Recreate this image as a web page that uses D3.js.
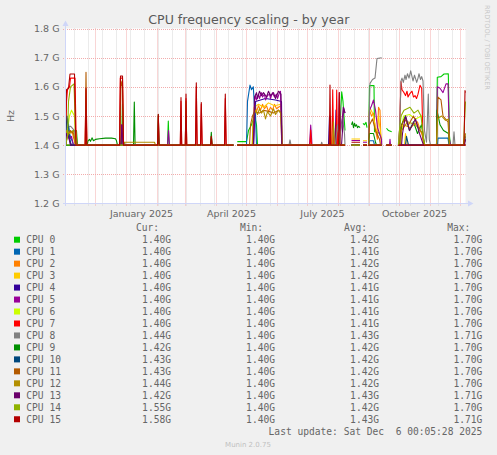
<!DOCTYPE html>
<html>
<head>
<meta charset="utf-8">
<script src="https://cdnjs.cloudflare.com/ajax/libs/d3/7.8.5/d3.min.js"></script>
<style>
body { margin: 0; background: #f0f0f0; }
svg { display: block; }
text { font-family: "DejaVu Sans", sans-serif; fill: #666; }
.mono { font-family: "DejaVu Sans Mono", monospace; font-size: 9.6px; white-space: pre; }
</style>
</head>
<body>
<div id="chart"></div>
<script>
// time window: 400 days ending at the last update
const startTime = Date.UTC(2024, 10, 1, 0, 5);
const endTime = Date.UTC(2025, 11, 6, 0, 5);
const BASE = 1.40;

// spans (in days from start) where rrd has data
const segments = [[0, 167.8], [171.8, 279.5], [286, 294.5], [297.5, 301.5], [303, 316.2], [321, 326.2], [332.8, 400]];

const cpuNames = ["CPU 0", "CPU 1", "CPU 2", "CPU 3", "CPU 4", "CPU 5", "CPU 6", "CPU 7",
                  "CPU 8", "CPU 9", "CPU 10", "CPU 11", "CPU 12", "CPU 13", "CPU 14", "CPU 15"];
const cpuColors = ["#00CC00", "#0066B3", "#FF8000", "#FFCC00", "#330099", "#990099", "#CCFF00", "#FF0000",
                   "#808080", "#008F00", "#00487D", "#B35A00", "#B38F00", "#6B006B", "#8FB300", "#B30000"];
const curVals = ["1.40G", "1.40G", "1.40G", "1.40G", "1.40G", "1.40G", "1.40G", "1.40G",
                 "1.44G", "1.42G", "1.43G", "1.43G", "1.44G", "1.42G", "1.55G", "1.58G"];
const minVals = ["1.40G", "1.40G", "1.40G", "1.40G", "1.40G", "1.40G", "1.40G", "1.40G",
                 "1.40G", "1.40G", "1.40G", "1.40G", "1.40G", "1.40G", "1.40G", "1.40G"];
const avgVals = ["1.42G", "1.41G", "1.42G", "1.42G", "1.41G", "1.41G", "1.41G", "1.41G",
                 "1.43G", "1.42G", "1.42G", "1.42G", "1.42G", "1.43G", "1.42G", "1.43G"];
const maxVals = ["1.70G", "1.70G", "1.70G", "1.70G", "1.70G", "1.70G", "1.70G", "1.70G",
                 "1.71G", "1.70G", "1.70G", "1.70G", "1.70G", "1.71G", "1.70G", "1.71G"];
const yTicks = [1.2, 1.3, 1.4, 1.5, 1.6, 1.7, 1.8];

// [day, GHz] points; everything not listed sits at 1.40
const cpu0 = [[0,1.42],[3,1.44],[8,1.45],[11,1.45],[12,1.40],
  [56,1.40],[57,1.54],[58,1.41],[59,1.40],
  [102,1.40],[102.8,1.483],[103.6,1.40],
  [171.8,1.412],[181,1.412],[183,1.45],[186,1.47],[189,1.50],[191,1.47],[192,1.40],
  [274,1.40],[275,1.50],[276.2,1.583],[277.5,1.55],[278.5,1.50],[279.5,1.45],
  [297.5,1.475],[299,1.47],[300.5,1.478],[301.5,1.46],
  [303,1.40],[304,1.604],[308.5,1.604],[309,1.446],[312,1.445],[314,1.44],[316.2,1.42],
  [321,1.458],[323,1.45],[326.2,1.446],
  [371,1.40],[371.8,1.633],[375.5,1.635],[378.5,1.644],[382.8,1.645],[384,1.43],[385,1.40]];
const cpu1 = [[0,1.40],[1.5,1.47],[2.5,1.49],[4,1.44],[6,1.42],[8,1.40],
  [181,1.40],[182,1.55],[184.5,1.606],[186,1.59],[187.8,1.60],[189,1.53],[190,1.50],[191,1.40],
  [269,1.40],[270,1.46],[271,1.40],
  [303,1.40],[304,1.415],[308,1.415],[309,1.40],
  [372,1.40],[372.5,1.424],[382.5,1.424],[383.5,1.40]];
const cpu2 = [[0,1.44],[3,1.45],[7,1.44],[10,1.40],
  [187,1.40],[188,1.50],[190,1.53],[191,1.515],[193,1.535],[195,1.52],[197,1.54],[199,1.525],[201,1.535],[203,1.515],[205,1.53],[207,1.52],[209,1.54],[211,1.525],[213,1.53],[215.5,1.535],[216.5,1.40],
  [264,1.40],[265,1.50],[266,1.40],
  [303,1.40],[304,1.52],[306,1.50],[308,1.51],[310,1.45],[312,1.42],[313,1.53],[314.5,1.52],[315.5,1.41],
  [334,1.40],[335,1.45],[338,1.47],[345,1.46],[352,1.48],[358,1.42],[359,1.40]];
const cpu3 = [[186.5,1.40],[188.5,1.53],[193,1.54],[198,1.53],[203,1.545],[209,1.535],[215.5,1.54],[216.5,1.40],
  [286,1.421],[294.5,1.421],
  [297.5,1.415],[301.5,1.415],
  [303,1.40],[304,1.53],[307,1.51],[309,1.48],[311,1.44],[313,1.50],[314,1.47],[316.2,1.41],
  [339,1.40],[340,1.44],[342,1.40]];
const cpu4 = [[0,1.40],[1,1.45],[3,1.43],[6,1.40],
  [188,1.40],[190,1.55],[200,1.56],[210,1.555],[216,1.55],[216.5,1.40],
  [263,1.40],[264,1.50],[265,1.40],[269.5,1.40],[270.5,1.52],[271.5,1.40]];
const cpu5 = [[0,1.40],[2,1.44],[4,1.42],[6,1.43],[8,1.40],
  [55,1.40],[56,1.47],[57.5,1.40],
  [102,1.40],[103,1.45],[104,1.40],
  [188,1.40],[189,1.55],[190,1.57],[191,1.555],[193,1.575],[194,1.56],[196,1.58],[197,1.565],[199,1.575],[200,1.555],[202,1.57],[204,1.575],[205,1.56],[207,1.58],[209,1.565],[211,1.575],[212,1.56],[214,1.58],[215,1.585],[216.2,1.40],
  [244,1.40],[245.2,1.469],[246.5,1.40],
  [272.5,1.40],[273.8,1.58],[275,1.45],[277,1.50],[277.8,1.53],[279.5,1.51],
  [286,1.416],[294.5,1.416],
  [297.5,1.41],[301.5,1.41],
  [303,1.40],[304,1.52],[306,1.535],[308,1.555],[310,1.52],[312,1.46],[316,1.42],
  [324,1.40],[324.5,1.42],[325,1.40],
  [371,1.40],[371.8,1.60],[374.5,1.595],[377.5,1.58],[380.5,1.61],[382.5,1.61],[384,1.42],[385,1.40]];
const cpu6 = [[0,1.40],[2,1.45],[4,1.50],[6,1.52],[9,1.50],[10.5,1.40],
  [335,1.40],[336,1.45],[338,1.50],[344,1.505],[350,1.49],[356,1.50],[358,1.40]];
const cpu7 = [[0,1.40],[1,1.55],[2,1.59],[4,1.60],[5,1.63],[9.5,1.63],[10.5,1.45],[11.5,1.40],
  [19.5,1.40],[20.5,1.59],[21.5,1.40],
  [54,1.40],[54.8,1.63],[57,1.63],[58,1.40],
  [92,1.40],[92.8,1.50],[93.6,1.40],
  [114.8,1.40],[115.5,1.55],[116.2,1.40],
  [119.8,1.40],[120.5,1.56],[121.2,1.40],
  [130,1.40],[130.8,1.60],[131.6,1.40],
  [135,1.40],[135.8,1.54],[136.6,1.40],
  [145,1.40],[145.8,1.43],[146.6,1.40],
  [159,1.40],[159.8,1.56],[160.6,1.40],
  [244.5,1.40],[245.2,1.452],[246,1.40],
  [266.5,1.40],[267.2,1.59],[268.2,1.40],[270.5,1.40],[271.2,1.589],[272,1.40],
  [333,1.40],[334,1.45],[335.5,1.618],[336.5,1.59],[338.5,1.58],[340,1.57],[341.5,1.585],[342.5,1.565],[344,1.575],[346.5,1.585],[348,1.565],[349.5,1.57],[351,1.56],[352.5,1.575],[354.5,1.605],[356.2,1.595],[357.5,1.42],[358.5,1.40]];
const cpu8 = [[0,1.40],[1,1.46],[5,1.465],[9,1.45],[11,1.40],
  [58,1.40],[59,1.41],[60,1.40],
  [223.5,1.40],[224.5,1.418],[225.5,1.40],
  [255.5,1.40],[256.2,1.41],[257,1.40],
  [270,1.40],[272,1.47],[274,1.42],[277,1.49],[279,1.44],
  [303,1.40],[304.5,1.612],[307,1.625],[309.5,1.63],[311.5,1.697],[316.2,1.70],
  [332.8,1.40],[334,1.45],[335.5,1.62],[336.5,1.63],[337.8,1.615],[339.5,1.64],[340.5,1.625],[342,1.645],[343.5,1.63],[345.2,1.655],[346.5,1.635],[347.5,1.62],[349,1.64],[351.2,1.615],[352.5,1.63],[353.5,1.645],[355,1.625],[356.2,1.635],[357.5,1.62],[359,1.45],[361,1.41],[362,1.50],[362.8,1.575],[363.8,1.42],[365,1.40],
  [387.5,1.40],[388.5,1.446],[389.5,1.40],[398,1.40],[400,1.44]];
const cpu9 = [[21.5,1.40],[22.5,1.415],[24,1.42],[25,1.413],[26.5,1.425],[28,1.415],[30,1.42],[34,1.422],[40,1.424],[46,1.424],[50,1.422],[51,1.415],[52,1.40],
  [68,1.40],[68.8,1.548],[69.6,1.40],
  [92.2,1.40],[92.8,1.505],[93.5,1.40],
  [145,1.40],[145.8,1.444],[146.6,1.40],
  [286,1.47],[287,1.48],[288,1.46],[289,1.475],[290,1.465],[291,1.47],[292,1.46],[293,1.465],[294.5,1.46],
  [303,1.40],[304,1.44],[308,1.44],[310,1.41],[311,1.40],
  [334,1.40],[336,1.47],[340,1.50],[344,1.45],[348,1.48],[352,1.44],[356,1.47],[359,1.40],
  [371,1.40],[371.5,1.52],[374.5,1.47],[378,1.45],[383,1.44],[384,1.40],[398,1.40],[400,1.42]];
const cpu10 = [[0,1.43],[1.5,1.50],[3,1.46],[5,1.40],
  [340,1.40],[341,1.43],[343,1.40],
  [398,1.40],[400,1.43]];
const cpu11 = [[0,1.40],[2,1.43],[5,1.45],[8,1.44],[10,1.40],
  [19.7,1.40],[20.5,1.65],[21.3,1.40],
  [54.5,1.40],[55.5,1.62],[57,1.60],[58,1.40],
  [119.8,1.40],[120.5,1.55],[121.2,1.40],
  [184,1.40],[185,1.47],[187,1.50],[189,1.515],[194,1.51],[198,1.52],[204,1.515],[208,1.51],[213,1.52],[216,1.51],[216.7,1.40],
  [303,1.40],[304,1.47],[307,1.49],[310,1.45],[314,1.42],[315,1.40],
  [334,1.40],[335,1.46],[339,1.49],[343,1.47],[348,1.50],[353,1.46],[357,1.44],[359,1.40],
  [371,1.40],[372.5,1.565],[375.5,1.555],[377.5,1.50],[382.5,1.48],[384,1.40],
  [398.5,1.40],[399.5,1.43],[400,1.43]];
const cpu12 = [[0,1.40],[1,1.45],[4,1.44],[8,1.45],[10,1.40],
  [58,1.40],[59,1.41],[70,1.41],[80,1.41],[89,1.41],[90,1.40],
  [187,1.40],[188,1.50],[190,1.52],[192,1.505],[194,1.525],[196,1.51],[198,1.52],[200,1.49],[202,1.515],[205,1.50],[208,1.525],[210,1.505],[213,1.52],[215,1.51],[216.5,1.40],
  [267,1.40],[268,1.48],[269,1.40],
  [335,1.40],[336,1.45],[342,1.48],[350,1.47],[357,1.44],[359,1.40],
  [371,1.40],[372,1.49],[376,1.50],[380,1.485],[383,1.49],[384,1.40],
  [398,1.40],[400,1.44]];
const cpu13 = [[0,1.40],[1,1.44],[3,1.43],[5,1.40],
  [55.5,1.40],[56.5,1.47],[57.5,1.40],
  [188,1.40],[189,1.565],[191,1.58],[192,1.56],[194,1.585],[196,1.57],[198,1.58],[201,1.565],[203,1.585],[205,1.57],[208,1.58],[210,1.56],[213,1.585],[215.5,1.575],[216.3,1.40],
  [276,1.40],[277,1.45],[278,1.53],[279.5,1.51],
  [336,1.40],[337,1.44],[340,1.50],[344,1.45],[350,1.49],[354,1.44],[358,1.40],
  [399,1.40],[400,1.42]];
const cpu14 = [[0,1.40],[2,1.43],[3,1.55],[5,1.60],[8.5,1.61],[10,1.45],[11,1.40],
  [333,1.40],[334,1.45],[335.5,1.50],[338.5,1.52],[344.5,1.53],[348.5,1.51],[352.5,1.52],[355.5,1.50],[358.5,1.41],[359.5,1.40],
  [398,1.40],[399,1.48],[400,1.55]];
const cpu15 = [[0,1.45],[1,1.59],[3,1.595],[4.5,1.644],[9,1.644],[10,1.45],[10.5,1.40],
  [19.8,1.40],[20.5,1.596],[21.2,1.40],
  [54,1.40],[55,1.637],[57,1.637],[58,1.40],
  [92,1.40],[92.8,1.506],[93.6,1.40],
  [114.8,1.40],[115.5,1.563],[116.2,1.40],
  [119.8,1.40],[120.5,1.575],[121.2,1.40],
  [130,1.40],[130.8,1.614],[131.6,1.40],
  [135,1.40],[135.8,1.546],[136.6,1.40],
  [145,1.40],[145.8,1.43],[146.6,1.40],
  [159,1.40],[159.8,1.575],[160.6,1.40],
  [263.8,1.40],[264.5,1.606],[265.2,1.40],[273,1.40],[273.8,1.58],[274.6,1.40],
  [286,1.41],[294.5,1.41],
  [398.5,1.40],[399.5,1.587],[400,1.58]];
const cpuPoints = [cpu0, cpu1, cpu2, cpu3, cpu4, cpu5, cpu6, cpu7, cpu8, cpu9, cpu10, cpu11, cpu12, cpu13, cpu14, cpu15];

const W = 497, H = 455;
const svg = d3.select("#chart").append("svg").attr("width", W).attr("height", H);

const x = d3.scaleUtc().domain([new Date(startTime), new Date(endTime)]).range([65.5, 465.5]);
const y = d3.scaleLinear().domain([1.2, 1.8]).range([203.5, 28.5]);
const dayDate = d => new Date(startTime + d * 864e5);

// canvas
svg.append("rect").attr("x", 65.5).attr("y", 28.5).attr("width", 400).attr("height", 175).attr("fill", "#fff");

// minor grid: every other Sunday
const minorDays = d3.utcSunday.range(new Date(startTime), new Date(endTime)).filter((d, i) => i % 2 === 1);
svg.append("g").selectAll("line").data(minorDays).join("line")
  .attr("x1", d => Math.round(x(d)) + 0.5).attr("x2", d => Math.round(x(d)) + 0.5)
  .attr("y1", 28.5).attr("y2", 205.5)
  .attr("stroke", "#d6d6d6").attr("stroke-dasharray", "1,1");

// major grid: months and 0.1 G steps
const months = d3.utcMonth.range(new Date(startTime), new Date(endTime));
svg.append("g").selectAll("line").data(months).join("line")
  .attr("x1", d => Math.round(x(d)) + 0.5).attr("x2", d => Math.round(x(d)) + 0.5)
  .attr("y1", 28.5).attr("y2", 206.5)
  .attr("stroke", "#f2acac").attr("stroke-dasharray", "1,1");
svg.append("g").selectAll("line").data(yTicks.slice(1)).join("line")
  .attr("x1", 63).attr("x2", 465.5)
  .attr("y1", d => Math.round(y(d)) + 0.5).attr("y2", d => Math.round(y(d)) + 0.5)
  .attr("stroke", "#f2acac").attr("stroke-dasharray", "1,1");

// y labels
svg.append("g").selectAll("text").data(yTicks).join("text")
  .attr("x", 59.5).attr("y", d => y(d) + 3.5)
  .attr("text-anchor", "end").style("font-size", "9.5px")
  .text(d => d.toFixed(1) + " G");

// x labels, placed half a month after the quarter start
const quarters = d3.utcMonth.every(3).range(new Date(startTime), new Date(endTime));
svg.append("g").selectAll("text").data(quarters).join("text")
  .attr("x", d => x(d3.utcDay.offset(d, 15)))
  .attr("y", 216.5).attr("text-anchor", "middle").style("font-size", "9.5px")
  .text(d3.utcFormat("%B %Y"));

// series
const line = d3.line()
  .defined(d => d[1] !== null)
  .x(d => x(dayDate(d[0])))
  .y(d => y(d[1]));

function buildSeries(pts) {
  const out = [];
  segments.forEach(([s0, s1], k) => {
    const inSeg = pts.filter(p => p[0] >= s0 && p[0] <= s1);
    if (!inSeg.length || inSeg[0][0] > s0) out.push([s0, BASE]);
    inSeg.forEach(p => out.push(p));
    if (out[out.length - 1][0] < s1) out.push([s1, BASE]);
    if (k < segments.length - 1) out.push([(s1 + segments[k + 1][0]) / 2, null]);
  });
  return out;
}

svg.append("g").selectAll("path").data(cpuPoints).join("path")
  .attr("d", d => line(buildSeries(d)))
  .attr("fill", "none")
  .attr("stroke", (d, i) => cpuColors[i])
  .attr("stroke-width", 1.1)
  .attr("stroke-linejoin", "round");

// axes with arrows
const axisCol = "#cfd6f8";
svg.append("line").attr("x1", 63).attr("x2", 469).attr("y1", 203.5).attr("y2", 203.5).attr("stroke", axisCol);
svg.append("line").attr("x1", 65.5).attr("x2", 65.5).attr("y1", 206).attr("y2", 25).attr("stroke", axisCol);
svg.append("path").attr("d", "M468,200.5L473.5,203.5L468,206.5Z").attr("fill", axisCol);
svg.append("path").attr("d", "M62.5,26L65.5,20.5L68.5,26Z").attr("fill", axisCol);

// titles
svg.append("text").attr("x", 248.8).attr("y", 24).attr("text-anchor", "middle")
  .style("font-size", "12.6px").style("fill", "#5a5a5a").text("CPU frequency scaling - by year");
svg.append("text").attr("transform", "translate(13.5,116) rotate(-90)").attr("text-anchor", "middle")
  .style("font-size", "9.5px").text("Hz");
svg.append("text").attr("transform", "translate(485,5) rotate(90)")
  .style("font-size", "6.6px").style("fill", "#c8c8c8").text("RRDTOOL / TOBI OETIKER");

// legend
const colRight = [171, 275, 379, 482.3];
const headers = ["Cur:", "Min:", "Avg:", "Max:"];
const legend = svg.append("g");
legend.selectAll("text.hdr").data(headers).join("text")
  .attr("class", "mono hdr").attr("x", (d, i) => colRight[i] - 12).attr("y", 231.2)
  .attr("text-anchor", "end").text(d => d);

const rows = legend.selectAll("g.row").data(cpuNames).join("g")
  .attr("class", "row").attr("transform", (d, i) => `translate(0,${243.2 + i * 11.97})`);
rows.append("rect").attr("x", 14).attr("y", -6.5).attr("width", 6).attr("height", 6)
  .attr("fill", (d, i) => cpuColors[i]);
rows.append("text").attr("class", "mono").attr("x", 26.3).attr("y", 0).text(d => d);
[curVals, minVals, avgVals, maxVals].forEach((vals, c) => {
  rows.append("text").attr("class", "mono").attr("x", colRight[c]).attr("y", 0)
    .attr("text-anchor", "end").text((d, i) => vals[i]);
});

legend.append("text").attr("class", "mono").attr("x", 482.3).attr("y", 435.2)
  .attr("text-anchor", "end").text("Last update: Sat Dec  6 00:05:28 2025");
svg.append("text").attr("x", 248).attr("y", 447).attr("text-anchor", "middle")
  .style("font-size", "7px").style("fill", "#c0c0c0").text("Munin 2.0.75");
</script>
</body>
</html>
